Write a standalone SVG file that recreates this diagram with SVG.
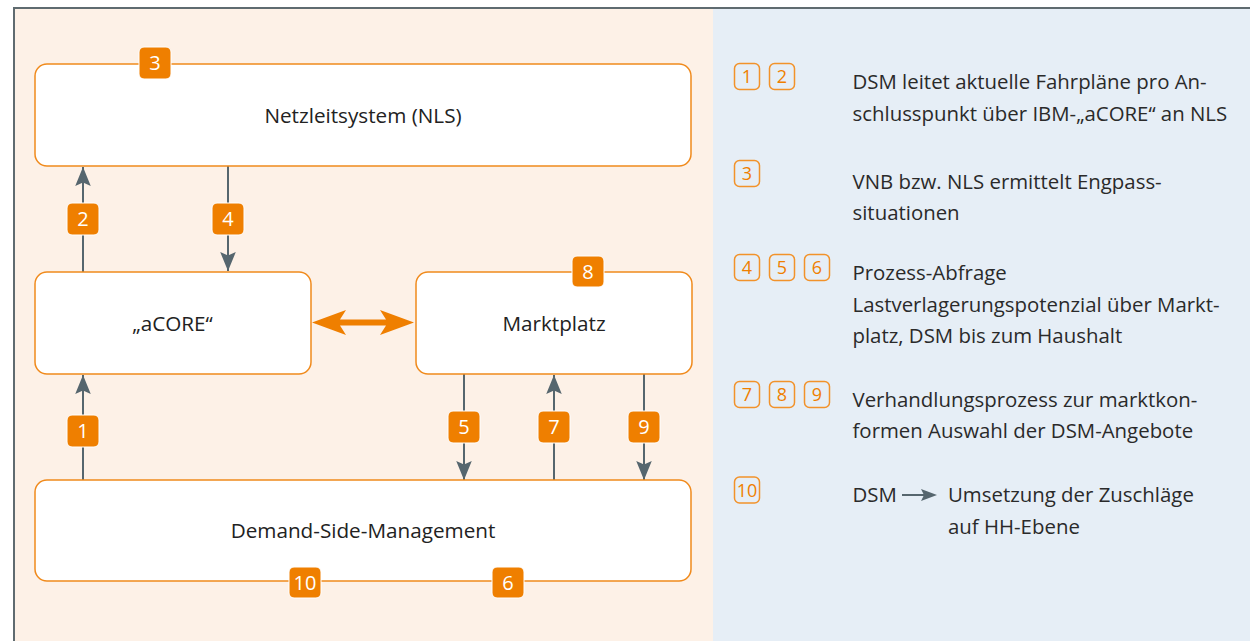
<svg xmlns="http://www.w3.org/2000/svg" width="1250" height="641" viewBox="0 0 1250 641">
<style>
.node{fill:#ffffff;stroke:#f08a1c;stroke-width:1.5}
.ntxt{font-family:"Open Sans",Lato,sans-serif;font-size:20.7px;fill:#222222;text-anchor:middle}
.badge{fill:#ef7f00;stroke:#ffffff;stroke-width:1}
.btxt{font-family:"Open Sans",Lato,sans-serif;font-size:20px;fill:#ffffff;text-anchor:middle}
.obadge{fill:none;stroke:#f2922a;stroke-width:1.5}
.obtxt{font-family:"Open Sans",Lato,sans-serif;font-size:18px;fill:#ef7f00;text-anchor:middle}
.ptxt{font-family:"Open Sans",Lato,sans-serif;font-size:20.4px;fill:#2a2a2a}
.conn{stroke:#56666e;stroke-width:2;fill:none}
</style>
<defs>
<marker id="ah" markerUnits="userSpaceOnUse" markerWidth="20" markerHeight="16" viewBox="0 0 18 14" refX="17" refY="7" orient="auto">
<path d="M0,0 L17,7 L0,14 L3,7 Z" fill="#56666e"/>
</marker>
</defs>
<!-- backgrounds -->
<rect x="0" y="0" width="1250" height="641" fill="#ffffff"/>
<rect x="14" y="8" width="699" height="633" fill="#fdf1e7"/>
<rect x="713" y="8" width="537" height="633" fill="#e6eef6"/>
<line x1="14" y1="8" x2="1250" y2="8" stroke="#5f6b70" stroke-width="2"/>
<line x1="14" y1="7" x2="14" y2="641" stroke="#5f6b70" stroke-width="2"/>

<!-- connectors -->
<g id="connectors">
<line class="conn" x1="83" y1="272" x2="83" y2="167" marker-end="url(#ah)"/>
<line class="conn" x1="228" y1="166" x2="228" y2="271" marker-end="url(#ah)"/>
<line class="conn" x1="83" y1="480" x2="83" y2="375" marker-end="url(#ah)"/>
<line class="conn" x1="464" y1="374" x2="464" y2="480" marker-end="url(#ah)"/>
<line class="conn" x1="554" y1="480" x2="554" y2="375" marker-end="url(#ah)"/>
<line class="conn" x1="644" y1="374" x2="644" y2="480" marker-end="url(#ah)"/>
<path d="M312,322.5 L346,310 L340,319.5 L386,319.5 L380,310 L414,322.5 L380,335 L386,325.5 L340,325.5 L346,335 Z" fill="#ef7f00"/>
</g>

<!-- nodes -->
<g id="node-nls">
<rect class="node" x="35" y="64" width="656" height="102" rx="12"/>
<text class="ntxt" x="363" y="123">Netzleitsystem (NLS)</text>
</g>
<g id="node-acore">
<rect class="node" x="35" y="272" width="276" height="102" rx="12"/>
<text class="ntxt" x="172.5" y="331">„aCORE“</text>
</g>
<g id="node-markt">
<rect class="node" x="416" y="272" width="276" height="102" rx="12"/>
<text class="ntxt" x="554" y="331">Marktplatz</text>
</g>
<g id="node-dsm">
<rect class="node" x="35" y="480" width="656" height="101" rx="12"/>
<text class="ntxt" x="363" y="538">Demand-Side-Management</text>
</g>

<!-- filled badges -->
<g id="badge-3"><rect class="badge" x="139" y="47" width="32" height="32" rx="5"/><text class="btxt" x="155" y="70">3</text></g>
<g id="badge-8"><rect class="badge" x="572" y="256" width="32" height="31" rx="5"/><text class="btxt" x="588" y="278.5">8</text></g>
<g id="badge-2"><rect class="badge" x="67" y="203" width="32" height="32" rx="5"/><text class="btxt" x="83" y="226">2</text></g>
<g id="badge-4"><rect class="badge" x="212" y="203" width="32" height="32" rx="5"/><text class="btxt" x="228" y="226">4</text></g>
<g id="badge-1"><rect class="badge" x="67" y="415" width="32" height="32" rx="5"/><text class="btxt" x="83" y="438">1</text></g>
<g id="badge-5"><rect class="badge" x="448" y="411" width="32" height="32" rx="5"/><text class="btxt" x="464" y="434">5</text></g>
<g id="badge-7"><rect class="badge" x="538" y="411" width="32" height="32" rx="5"/><text class="btxt" x="554" y="434">7</text></g>
<g id="badge-9"><rect class="badge" x="628" y="411" width="32" height="32" rx="5"/><text class="btxt" x="644" y="434">9</text></g>
<g id="badge-10"><rect class="badge" x="289" y="567" width="32" height="31" rx="5"/><text class="btxt" x="305" y="589.5">10</text></g>
<g id="badge-6"><rect class="badge" x="492" y="567" width="32" height="31" rx="5"/><text class="btxt" x="508" y="589.5">6</text></g>

<!-- legend -->
<g id="legend-12">
<rect class="obadge" x="734.5" y="63.5" width="25" height="26" rx="5"/><text class="obtxt" x="747" y="83">1</text>
<rect class="obadge" x="769.5" y="63.5" width="25" height="26" rx="5"/><text class="obtxt" x="782" y="83">2</text>
<text class="ptxt" x="852.5" y="89">DSM leitet aktuelle Fahrpläne pro An-</text>
<text class="ptxt" x="852.5" y="121">schlusspunkt über IBM-„aCORE“ an NLS</text>
</g>
<g id="legend-3">
<rect class="obadge" x="734.5" y="160.5" width="25" height="26" rx="5"/><text class="obtxt" x="747" y="180">3</text>
<text class="ptxt" x="852.5" y="189">VNB bzw. NLS ermittelt Engpass-</text>
<text class="ptxt" x="852.5" y="220">situationen</text>
</g>
<g id="legend-456">
<rect class="obadge" x="734.5" y="254.5" width="25" height="26" rx="5"/><text class="obtxt" x="747" y="274">4</text>
<rect class="obadge" x="769.5" y="254.5" width="25" height="26" rx="5"/><text class="obtxt" x="782" y="274">5</text>
<rect class="obadge" x="804.5" y="254.5" width="25" height="26" rx="5"/><text class="obtxt" x="817" y="274">6</text>
<text class="ptxt" x="852.5" y="280">Prozess-Abfrage</text>
<text class="ptxt" x="852.5" y="312">Lastverlagerungspotenzial über Markt-</text>
<text class="ptxt" x="852.5" y="343">platz, DSM bis zum Haushalt</text>
</g>
<g id="legend-789">
<rect class="obadge" x="734.5" y="381.5" width="25" height="26" rx="5"/><text class="obtxt" x="747" y="401">7</text>
<rect class="obadge" x="769.5" y="381.5" width="25" height="26" rx="5"/><text class="obtxt" x="782" y="401">8</text>
<rect class="obadge" x="804.5" y="381.5" width="25" height="26" rx="5"/><text class="obtxt" x="817" y="401">9</text>
<text class="ptxt" x="852.5" y="407">Verhandlungsprozess zur marktkon-</text>
<text class="ptxt" x="852.5" y="438">formen Auswahl der DSM-Angebote</text>
</g>
<g id="legend-10">
<rect class="obadge" x="734.5" y="477" width="25" height="26" rx="5"/><text class="obtxt" x="747" y="496.5">10</text>
<text class="ptxt" x="852.5" y="502">DSM</text>
<line x1="902" y1="495" x2="926" y2="495" stroke="#56666e" stroke-width="2"/>
<path d="M921,489 L937,495 L921,501 L924,495 Z" fill="#56666e"/>
<text class="ptxt" x="948" y="502">Umsetzung der Zuschläge</text>
<text class="ptxt" x="948" y="534">auf HH-Ebene</text>
</g>
</svg>
